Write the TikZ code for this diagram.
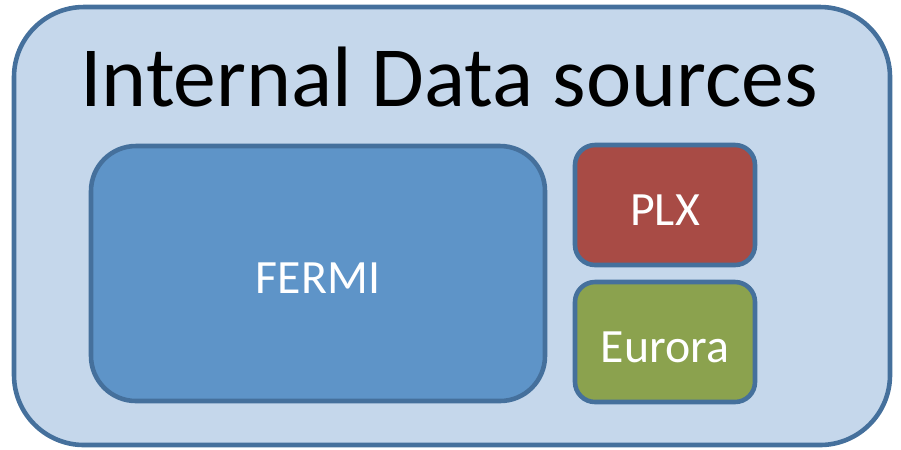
\documentclass[tikz,border=0pt]{standalone}
\usepackage{fontspec}
\setmainfont{Carlito}
\definecolor{panelfill}{HTML}{C5D7EB}
\definecolor{edgeblue}{HTML}{45709C}
\definecolor{fermifill}{HTML}{5E94C8}
\definecolor{plxfill}{HTML}{A84B45}
\definecolor{eurorafill}{HTML}{8BA24E}
\begin{document}
\begin{tikzpicture}[
  box/.style={draw=edgeblue, line width=1.3pt, rounded corners=0.2cm, text=white,
    font=\fontsize{13.6}{16}\selectfont, text height=11.4pt, text depth=0pt,
    minimum width=1.8cm, minimum height=1.2cm}
]
\useasboundingbox (0,0) rectangle (9.01,-4.49);

\node [draw=edgeblue, fill=panelfill, line width=1.3pt, rounded corners=0.7cm,
  minimum width=8.76cm, minimum height=4.38cm] (panel) at (4.52,-2.26) {};
\node [font=\fontsize{24.4}{29}\selectfont] (title) at (4.49,-0.77) {Internal Data sources};

\node [box, fill=fermifill, rounded corners=0.45cm, minimum width=4.54cm, minimum height=2.55cm] (fermi) at (3.18,-2.735) {FERMI};
\node [box, fill=plxfill] (plx) at (6.65,-2.05) {PLX};
\node [box, fill=eurorafill] (eurora) at (6.65,-3.42) {Eurora};

\end{tikzpicture}
\end{document}
